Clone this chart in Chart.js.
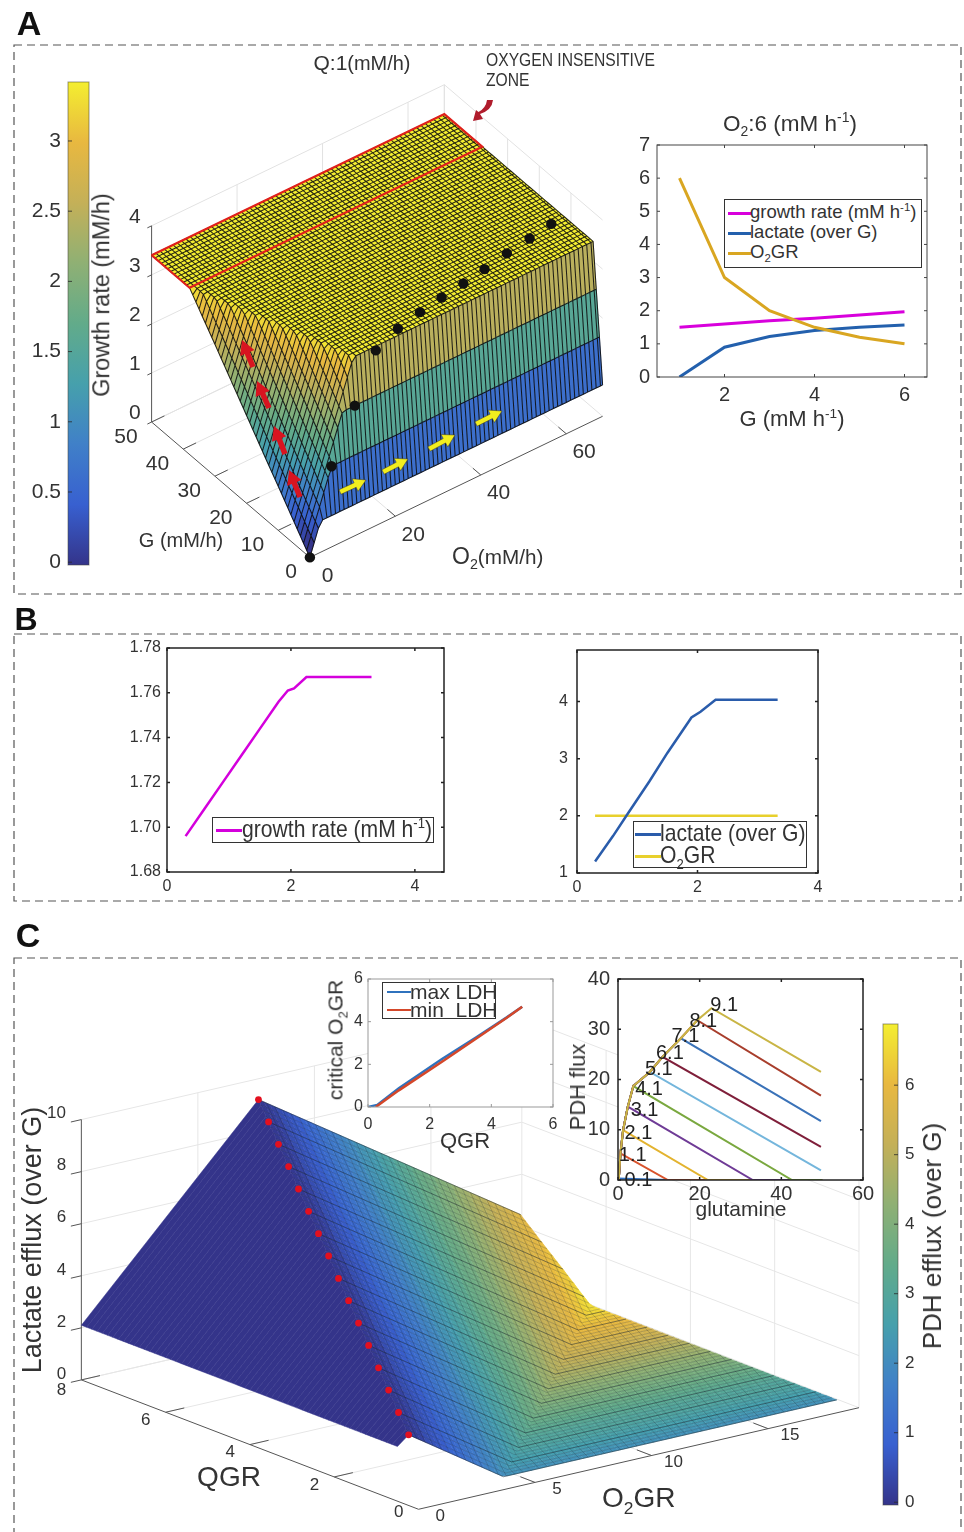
<!DOCTYPE html>
<html>
<head>
<meta charset="utf-8">
<title>Growth rate, lactate and PDH panels</title>
<script src="https://cdn.jsdelivr.net/npm/chart.js@4/dist/chart.umd.js"></script>
<style>
    html, body { margin: 0; padding: 0; background: #fff; }
    #page { position: absolute; left: 0; top: 0; width: 964px; height: 1532px; overflow: hidden; filter: blur(0.4px); font-family: "Liberation Sans", Arial, sans-serif; color: #333; }
    canvas { position: absolute; }
    svg { position: absolute; left: 0; top: 0; }
    .t { position: absolute; white-space: nowrap; line-height: 1; }
    sub, sup { font-size: 0.62em; line-height: 0; }
    .legend { position: absolute; background: #fff; border: 1px solid #333; box-sizing: border-box; }
    .swatch { position: absolute; }
</style>
</head>
<body>
<div id="page"></div>
<script>
// ==================================================
// DADOS
// ==================================================

// Painel A - superficie: cada linha e um nivel de G (joelho em O2, altura na borda e no plato)
const surfaceG = [0, 1, 2, 3, 4, 6, 10, 14, 18, 22, 26, 30, 34, 38, 50];
const surfaceBreakO2 = [2.5, 5.8, 9.1, 12.4, 12.0, 11.3, 9.9, 8.5, 7.1, 5.65, 4.2, 2.8, 1.4, 0, 0];
const surfaceEdgeZ = [0, 0.09, 0.18, 0.27, 0.36, 0.54, 0.9, 1.25, 1.61, 1.97, 2.33, 2.69, 3.04, 3.4, 3.4];
const surfaceTopZ = [0.64, 1.56, 2.48, 3.4, 3.4, 3.4, 3.4, 3.4, 3.4, 3.4, 3.4, 3.4, 3.4, 3.4, 3.4];
const surfaceO2Max = 68.5;
const surfaceZoneG = 38;
const dotG = [0, 1, 2, 2, 4.6, 6, 7, 7.8, 8.8, 10, 10.9, 11.9];
const dotO2 = [0, 5.8, 12, 16.9, 24, 30.2, 36, 41.7, 47.4, 53.5, 59.5, 65.3];
const dotZ = [0, 1.56, 2.48, 3.4, 3.4, 3.4, 3.4, 3.4, 3.4, 3.4, 3.4, 3.4];
const gTicks = [0, 10, 20, 30, 40, 50];
const o2Ticks = [0, 20, 40, 60];
const zTicksA = [0, 1, 2, 3, 4];
const growthBarTicks = [0, 0.5, 1, 1.5, 2, 2.5, 3];

// Painel A - curvas a direita
const sweepG = [1, 2, 3, 4, 5, 6];
const sweepGrowth = [1.5, 1.6, 1.7, 1.77, 1.87, 1.97];
const sweepLactate = [0, 0.9, 1.22, 1.4, 1.5, 1.57];
const sweepO2GR = [6, 3, 2, 1.5, 1.2, 1.0];
const sweepXTicks = [2, 4, 6];
const sweepYTicks = [0, 1, 2, 3, 4, 5, 6, 7];

// Painel B
const bGrowthX = [0.3, 0.6, 0.9, 1.2, 1.5, 1.8, 1.95, 2.05, 2.25, 3.3];
const bGrowthY = [1.696, 1.708, 1.72, 1.732, 1.744, 1.756, 1.761, 1.762, 1.767, 1.767];
const bLactateX = [0.3, 0.6, 0.85, 1.2, 1.5, 1.9, 2.05, 2.3, 3.33];
const bLactateY = [1.2, 1.65, 2.05, 2.6, 3.1, 3.72, 3.82, 4.03, 4.03];
const bO2X = [0.3, 3.33];
const bO2Y = [2, 2];
const bXTicks = [0, 2, 4];
const bGrowthTicks = [1.68, 1.70, 1.72, 1.74, 1.76, 1.78];
const bLactateTicks = [1, 2, 3, 4];

// Painel C - superficie: cada linha e um nivel de QGR
const qgrLevels = [0.5, 1, 1.5, 2, 2.5, 3, 3.5, 4, 4.5, 5, 5.5, 6, 6.5, 7, 7.5, 8];
const critO2 = [0.48, 0.95, 1.43, 1.9, 2.38, 2.85, 3.33, 3.8, 4.28, 4.75, 5.23, 5.7, 6.18, 6.65, 7.13, 7.6];
const peakLactate = [2.45, 2.9, 3.35, 3.8, 4.25, 4.7, 5.15, 5.6, 6.05, 6.5, 6.95, 7.4, 7.85, 8.3, 8.75, 9.2];
const zeroLactateO2 = [4.55, 5.8, 7, 8.2, 9.45, 10.7, 11.9, 13.1, 14.35, 15.6, 16.8, 18.05, 19.25, 20.5, 21.7, 22.95];
const pdhAtZero = [2.12, 2.52, 2.9, 3.27, 3.68, 4.08, 4.46, 4.84, 5.24, 5.64, 6.02, 6.42, 6.8, 7.2, 7.6, 7.98];
const startLactate = 2.1;
const o2grMax = 18.85;
const qgrTicks = [0, 2, 4, 6, 8];
const o2grTicks = [0, 5, 10, 15];
const zTicksC = [0, 2, 4, 6, 8, 10];
const pdhBarTicks = [0, 1, 2, 3, 4, 5, 6];

// Painel C - critical O2GR
const ldhMaxX = [0, 0.3, 1, 2.4, 3.5, 4.5, 5];
const ldhMaxY = [0, 0.1, 0.88, 2.25, 3.25, 4.2, 4.7];
const ldhMinX = [0.25, 1, 2.4, 3.5, 4.5, 5];
const ldhMinY = [0, 0.78, 2.12, 3.2, 4.18, 4.7];
const ldhTicks = [0, 2, 4, 6];

// Painel C - PDH flux x glutamine
const pdhLevels = ['0.1', '1.1', '2.1', '3.1', '4.1', '5.1', '6.1', '7.1', '8.1', '9.1'];
const envelopeX = [0, 0.2, 0.6, 1.25, 2.4, 3.75, 7.8, 10.9, 15.4, 19.4, 22.9];
const envelopeY = [0, 0.3, 5.3, 9.9, 14.6, 18.7, 21.5, 24.5, 28.2, 31.8, 34.2];
const tailX = [12, 12.2, 22, 33, 42.6, 49.7, 49.7, 49.7, 49.7, 49.7];
const tailY = [0, 0, 0, 0, 0, 1.9, 6.6, 11.7, 16.8, 21.5];
const pdhLabelX = [5, 3.6, 5, 6.5, 7.6, 10, 12.7, 16.5, 20.9, 26];
const pdhLabelY = [0, 4.8, 9.3, 13.8, 18, 22, 25.2, 28.6, 31.5, 34.8];
const pdhColors = ['#2f6fc0', '#d9532c', '#e3b32f', '#6f3b96', '#7aa83f', '#74b6dc', '#7f1f3a', '#3a72b8', '#a83e2c', '#c9b545'];
const glutamineTicks = [0, 20, 40, 60];
const pdhFluxTicks = [0, 10, 20, 30, 40];

// Escala de cores das barras laterais
const colorStops = ['#34348a', '#3860d0', '#4080c8', '#46a0ac', '#62ab8a', '#8fb074', '#c4b058', '#e8b840', '#f4ee30'];

// ==================================================
// UTILITARIOS
// ==================================================

Chart.defaults.font.family = '"Liberation Sans", Arial, sans-serif';
Chart.defaults.color = '#333';
Chart.defaults.animation = false;

const page = document.getElementById('page');
const noGrid = { display: false, drawTicks: false };

function text(x, y, html, opts = {}) {
    const el = document.createElement('div');
    el.className = 't';
    const anchor = opts.anchor === 'l' ? '0' : opts.anchor === 'r' ? '-100%' : '-50%';
    el.style.left = x + 'px';
    el.style.top = y + 'px';
    el.style.fontSize = (opts.size || 18) + 'px';
    if (opts.weight) el.style.fontWeight = opts.weight;
    if (opts.color) el.style.color = opts.color;
    if (opts.sx) el.style.transformOrigin = 'left center';
    el.style.transform = `translate(${anchor}, -50%)` + (opts.rot ? ` rotate(${opts.rot}deg)` : '') + (opts.sx ? ` scaleX(${opts.sx})` : '');
    el.innerHTML = html;
    page.appendChild(el);
}

function pairs(xs, ys) {
    return xs.map((x, i) => ({ x: x, y: ys[i] }));
}

function hexToRgb(hex) {
    return [1, 3, 5].map(i => parseInt(hex.slice(i, i + 2), 16));
}

// Cor da escala para t entre 0 e 1
function colormap(t) {
    const pos = Math.max(0, Math.min(1, t)) * (colorStops.length - 1);
    const i = Math.min(colorStops.length - 2, Math.floor(pos));
    const a = hexToRgb(colorStops[i]);
    const b = hexToRgb(colorStops[i + 1]);
    const f = pos - i;
    return `rgb(${a.map((v, k) => Math.round(v + (b[k] - v) * f)).join(',')})`;
}

function makeCanvas(box, m) {
    const canvas = document.createElement('canvas');
    canvas.width = box.r - box.l + m.l + m.r;
    canvas.height = box.b - box.t + m.t + m.b;
    canvas.style.left = (box.l - m.l) + 'px';
    canvas.style.top = (box.t - m.t) + 'px';
    page.appendChild(canvas);
    return canvas.getContext('2d');
}

// Sem isto o rotulo da ponta do eixo empurra a area de plotagem para dentro
function fixScale(s, prop, size) {
    s[prop] = size;
    s.paddingLeft = s.paddingRight = s.paddingTop = s.paddingBottom = 0;
}

function useTicks(values) {
    return s => { s.ticks = values.map(v => ({ value: v })); };
}

// Moldura fechada com marcas para dentro nos quatro lados
const framePlugin = {
    id: 'frame',
    beforeDraw(chart) {
        const a = chart.chartArea;
        chart.ctx.save();
        chart.ctx.fillStyle = '#fff';
        chart.ctx.fillRect(a.left, a.top, a.right - a.left, a.bottom - a.top);
        chart.ctx.restore();
    },
    afterDraw(chart, args, opts) {
        const a = chart.chartArea;
        const ctx = chart.ctx;
        ctx.save();
        ctx.strokeStyle = opts.color || '#333';
        ctx.lineWidth = opts.width || 1;
        ctx.strokeRect(a.left, a.top, a.right - a.left, a.bottom - a.top);
        const len = 3;
        ctx.beginPath();
        chart.scales.x.ticks.forEach(t => {
            const px = chart.scales.x.getPixelForValue(t.value);
            ctx.moveTo(px, a.bottom); ctx.lineTo(px, a.bottom - len);
            ctx.moveTo(px, a.top); ctx.lineTo(px, a.top + len);
        });
        chart.scales.y.ticks.forEach(t => {
            const py = chart.scales.y.getPixelForValue(t.value);
            ctx.moveTo(a.left, py); ctx.lineTo(a.left + len, py);
            ctx.moveTo(a.right, py); ctx.lineTo(a.right - len, py);
        });
        ctx.stroke();
        ctx.restore();
    }
};

// Grafico de linhas 2D com a area de plotagem exatamente na caixa pedida
function lineChart(box, cfg) {
    const m = { l: 50, t: 14, r: 16, b: 34 };
    const ctx = makeCanvas(box, m);
    const font = { size: cfg.tickSize || 18 };
    const plugins = [framePlugin].concat(cfg.plugins || []);
    return new Chart(ctx, {
        type: 'line',
        data: { datasets: cfg.series.slice().reverse().map(s => ({
            label: s.label,
            data: s.data,
            borderColor: s.color,
            borderWidth: s.width || cfg.lineWidth || 3,
            pointRadius: 0,
            fill: false,
            tension: 0
        })) },
        options: {
            responsive: false,
            layout: { padding: { top: m.t, right: m.r } },
            plugins: { legend: { display: false }, tooltip: { enabled: false }, frame: { color: cfg.frameColor, width: cfg.frameWidth } },
            scales: {
                x: {
                    type: 'linear',
                    min: cfg.x.min, max: cfg.x.max,
                    afterFit(s) { fixScale(s, 'height', m.b); },
                    afterBuildTicks: useTicks(cfg.x.ticks),
                    grid: noGrid, border: { display: false },
                    ticks: { font: font, maxRotation: 0, autoSkip: false, padding: cfg.xPad === undefined ? 6 : cfg.xPad, color: '#333' }
                },
                y: {
                    type: 'linear',
                    min: cfg.y.min, max: cfg.y.max,
                    afterFit(s) { fixScale(s, 'width', m.l); },
                    afterBuildTicks: useTicks(cfg.y.ticks),
                    grid: noGrid, border: { display: false },
                    ticks: { font: font, autoSkip: false, padding: cfg.yPad === undefined ? 6 : cfg.yPad, color: '#333', callback: cfg.y.format || (v => String(v)) }
                }
            }
        },
        plugins: plugins
    });
}

// Marcas e contorno da barra de cores
const barEdgePlugin = {
    id: 'barEdge',
    afterDraw(chart) {
        const a = chart.chartArea;
        const ctx = chart.ctx;
        ctx.save();
        ctx.strokeStyle = 'rgba(70,70,60,0.55)';
        ctx.strokeRect(a.left, a.top, a.right - a.left, a.bottom - a.top);
        ctx.strokeStyle = 'rgba(40,40,40,0.8)';
        ctx.beginPath();
        chart.scales.y.ticks.forEach(t => {
            const py = chart.scales.y.getPixelForValue(t.value);
            const side = chart.scales.y.position === 'left';
            ctx.moveTo(side ? a.left : a.right, py);
            ctx.lineTo(side ? a.left + 4 : a.right - 4, py);
        });
        ctx.stroke();
        ctx.restore();
    }
};

// Barra de cores: uma barra flutuante com gradiente
function colorbar(box, cfg) {
    const m = cfg.side === 'left' ? { l: 44, t: 14, r: 2, b: 14 } : { l: 2, t: 14, r: 44, b: 14 };
    const ctx = makeCanvas(box, m);
    return new Chart(ctx, {
        type: 'bar',
        data: {
            labels: [''],
            datasets: [{
                data: [[cfg.min, cfg.max]],
                barPercentage: 1,
                categoryPercentage: 1,
                borderWidth: 0,
                backgroundColor(c) {
                    const a = c.chart.chartArea;
                    if (!a) return colorStops[0];
                    const g = c.chart.ctx.createLinearGradient(0, a.bottom, 0, a.top);
                    colorStops.forEach((col, i) => g.addColorStop(i / (colorStops.length - 1), col));
                    return g;
                }
            }]
        },
        options: {
            responsive: false,
            layout: { padding: { top: m.t, bottom: m.b, left: cfg.side === 'left' ? 0 : m.l, right: cfg.side === 'left' ? m.r : 0 } },
            plugins: { legend: { display: false }, tooltip: { enabled: false } },
            scales: {
                x: { display: false },
                y: {
                    position: cfg.side,
                    min: cfg.min, max: cfg.max,
                    afterFit(s) { fixScale(s, 'width', cfg.side === 'left' ? m.l : m.r); },
                    afterBuildTicks: useTicks(cfg.ticks),
                    grid: noGrid, border: { display: false },
                    ticks: { autoSkip: false, padding: cfg.pad, font: { size: cfg.size }, color: '#333', callback: v => String(v) }
                }
            }
        },
        plugins: [barEdgePlugin]
    });
}

// Legenda com linhas de amostra e texto real
function legend(box, rows, opts) {
    const el = document.createElement('div');
    el.className = 'legend';
    el.style.left = box.l + 'px';
    el.style.top = box.t + 'px';
    el.style.width = (box.r - box.l) + 'px';
    el.style.height = (box.b - box.t) + 'px';
    page.appendChild(el);
    rows.forEach(row => {
        const s = document.createElement('div');
        s.className = 'swatch';
        s.style.left = (opts.swatchX) + 'px';
        s.style.width = opts.swatchW + 'px';
        s.style.top = (row.y - box.t - opts.thick / 2) + 'px';
        s.style.height = opts.thick + 'px';
        s.style.background = row.color;
        el.appendChild(s);
        text(box.l + opts.swatchX + opts.swatchW + (opts.gap || 0), row.y, row.html, { anchor: 'l', size: opts.size, sx: opts.sx });
    });
}

// ---- superficies 3D: poligonos agrupados por cor em conjuntos scatter ----

const BREAK = { x: NaN, y: NaN };

function pushCell(bins, nBins, t, pts) {
    const k = Math.round(Math.max(0, Math.min(1, t)) * (nBins - 1));
    if (!bins[k]) bins[k] = [];
    bins[k].push(pts[0], pts[1], pts[2], pts[3], pts[0], BREAK);
}

function cellDatasets(bins, nBins) {
    const out = [];
    Object.keys(bins).forEach(k => {
        const c = colormap(k / (nBins - 1));
        out.push({ data: bins[k], showLine: true, fill: 'shape', backgroundColor: c, borderColor: c, borderWidth: 0.5, borderDash: [1000, 0], pointRadius: 0, spanGaps: false, tension: 0 });
    });
    return out;
}

function strokeDataset(data, color, width) {
    return { data: data, showLine: true, fill: false, borderColor: color, borderWidth: width, borderDash: [1000, 0], pointRadius: 0, spanGaps: false, tension: 0 };
}

// Textos de marcas dos eixos 3D, posicionados pelas escalas do proprio grafico
const axisLabelPlugin = {
    id: 'axisLabels',
    afterDatasetsDraw(chart, args, opts) {
        const ctx = chart.ctx;
        ctx.save();
        ctx.fillStyle = '#333';
        ctx.textAlign = 'center';
        ctx.textBaseline = 'middle';
        ctx.font = opts.size + 'px "Liberation Sans", Arial, sans-serif';
        opts.items.forEach(it => {
            ctx.fillText(it.text, chart.scales.x.getPixelForValue(it.x), chart.scales.y.getPixelForValue(it.y));
        });
        ctx.restore();
    }
};

function surfaceChart(top, bottom, datasets, labelItems, labelSize) {
    const ctx = makeCanvas({ l: 0, t: top, r: 964, b: bottom }, { l: 0, t: 0, r: 0, b: 0 });
    return new Chart(ctx, {
        type: 'scatter',
        data: { datasets: datasets },
        options: {
            responsive: false,
            layout: { padding: 0 },
            plugins: { legend: { display: false }, tooltip: { enabled: false }, axisLabels: { items: labelItems, size: labelSize } },
            scales: {
                x: { display: false, min: 0, max: 964 },
                y: { display: false, min: top, max: bottom, reverse: true }
            }
        },
        plugins: [axisLabelPlugin]
    });
}

// ==================================================
// MOLDURAS TRACEJADAS, LETRAS, ANOTACOES
// ==================================================

function dashedBoxes() {
    const boxes = [[14, 45, 947, 549], [14, 634, 947, 267], [14, 958, 947, 590]];
    const rects = boxes.map(b => `<rect x="${b[0]}" y="${b[1]}" width="${b[2]}" height="${b[3]}" fill="none" stroke="#555" stroke-width="1.2" stroke-dasharray="8 5"/>`).join('');
    const svg = document.createElementNS('http://www.w3.org/2000/svg', 'svg');
    svg.setAttribute('width', 964);
    svg.setAttribute('height', 1532);
    svg.innerHTML = rects;
    page.appendChild(svg);
}

function arrowPath(x1, y1, x2, y2, w, head) {
    const len = Math.hypot(x2 - x1, y2 - y1);
    const ux = (x2 - x1) / len, uy = (y2 - y1) / len;
    const nx = -uy, ny = ux;
    const bx = x2 - ux * head, by = y2 - uy * head;
    const p = [
        [x1 + nx * w / 2, y1 + ny * w / 2],
        [bx + nx * w / 2, by + ny * w / 2],
        [bx + nx * w * 1.4, by + ny * w * 1.4],
        [x2, y2],
        [bx - nx * w * 1.4, by - ny * w * 1.4],
        [bx - nx * w / 2, by - ny * w / 2],
        [x1 - nx * w / 2, y1 - ny * w / 2]
    ];
    return p.map(q => q[0].toFixed(1) + ',' + q[1].toFixed(1)).join(' ');
}

function annotations() {
    const yellow = [[340, 492, 366, 480], [383, 472, 408, 459], [429, 449, 455, 435], [476, 424, 502, 411]];
    const red = [[253, 367, 242, 340], [269, 408, 257, 381], [285, 454, 274, 426], [300, 497, 289, 470]];
    let inner = '';
    yellow.forEach(a => {
        inner += `<polygon points="${arrowPath(a[0], a[1], a[2], a[3], 5, 12)}" fill="#f2ee1e" stroke="#333" stroke-width="0.5"/>`;
    });
    red.forEach(a => {
        inner += `<polygon points="${arrowPath(a[0], a[1], a[2], a[3], 5.5, 14)}" fill="#d81420"/>`;
    });
    inner += `<path d="M493 100 Q492 110 480 114 L483 119 L473 121 L476 110 L478.5 112 Q486 108 487 100 Z" fill="#b01c2c"/>`;
    const svg = document.createElementNS('http://www.w3.org/2000/svg', 'svg');
    svg.setAttribute('width', 964);
    svg.setAttribute('height', 1532);
    svg.innerHTML = inner;
    page.appendChild(svg);
}

// ==================================================
// PAINEL A - SUPERFICIE
// ==================================================

function projA(g, o, z) {
    return { x: 308 - 3.2 * g + 4.32 * o, y: 562 - 2.76 * g - 2.1 * o - 50 * z };
}

// Altura da superficie entre os niveis lidos. As malhas finas abaixo so subdividem
// estes valores para desenhar a textura da malha; nao sao novas leituras.
function surfaceZ(g, o) {
    let i = surfaceG.findIndex((v, k) => k < surfaceG.length - 1 && g < surfaceG[k + 1]);
    if (i < 0) i = surfaceG.length - 2;
    const f = (g - surfaceG[i]) / (surfaceG[i + 1] - surfaceG[i]);
    const brk = surfaceBreakO2[i] + (surfaceBreakO2[i + 1] - surfaceBreakO2[i]) * f;
    const edge = surfaceEdgeZ[i] + (surfaceEdgeZ[i + 1] - surfaceEdgeZ[i]) * f;
    const top = surfaceTopZ[i] + (surfaceTopZ[i + 1] - surfaceTopZ[i]) * f;
    if (o >= brk) return top;
    return edge + (top - edge) * o / brk;
}

function buildPanelA() {
    const gMesh = [];
    for (let g = 0; g <= 50; g++) gMesh.push(g);
    const oMesh = [];
    for (let o = 0; o <= 68; o++) oMesh.push(o);
    oMesh.push(surfaceO2Max);

    const nBins = 56;
    const bins = {};
    const pt = (g, o) => projA(g, o, surfaceZ(g, o));
    for (let i = 0; i < gMesh.length - 1; i++) {
        for (let j = 0; j < oMesh.length - 1; j++) {
            const g0 = gMesh[i], g1 = gMesh[i + 1], o0 = oMesh[j], o1 = oMesh[j + 1];
            pushCell(bins, nBins, surfaceZ(g0, o0) / 3.42, [pt(g0, o0), pt(g1, o0), pt(g1, o1), pt(g0, o1)]);
        }
    }

    const mesh = [];
    gMesh.forEach(g => { oMesh.forEach(o => mesh.push(pt(g, o))); mesh.push(BREAK); });
    oMesh.forEach(o => { gMesh.forEach(g => mesh.push(pt(g, o))); mesh.push(BREAK); });

    const zone = [projA(50, 0, 3.4), projA(50, surfaceO2Max, 3.4), projA(surfaceZoneG, surfaceO2Max, 3.4), projA(surfaceZoneG, 0, 3.4), projA(50, 0, 3.4)];

    const grid = [];
    const axes = [];
    const seg = (list, a, b) => list.push(a, b, BREAK);
    zTicksA.forEach(z => {
        seg(grid, projA(50, 0, z), projA(50, surfaceO2Max, z));
        seg(grid, projA(50, surfaceO2Max, z), projA(0, surfaceO2Max, z));
        seg(axes, projA(50, 0, z), projA(50, -1, z));
    });
    o2Ticks.slice(1).forEach(o => {
        seg(grid, projA(50, o, 0), projA(50, o, 4));
        seg(grid, projA(0, o, 0), projA(50, o, 0));
        seg(axes, projA(0, o, 0), projA(2.5, o, 0));
    });
    gTicks.slice(1).forEach(g => {
        seg(grid, projA(g, surfaceO2Max, 0), projA(g, surfaceO2Max, 4));
        seg(grid, projA(g, 0, 0), projA(g, surfaceO2Max, 0));
        seg(axes, projA(g, 0, 0), projA(g, 3, 0));
    });
    seg(grid, projA(50, surfaceO2Max, 0), projA(50, surfaceO2Max, 4));
    seg(axes, projA(0, 0, 0), projA(50, 0, 0));
    seg(axes, projA(0, 0, 0), projA(0, surfaceO2Max, 0));
    seg(axes, projA(50, 0, 0), projA(50, 0, 4));

    const dots = dotG.map((g, i) => projA(g, dotO2[i], dotZ[i]));

    const labels = [];
    zTicksA.forEach(z => { const p = projA(50, 0, z); labels.push({ x: p.x - 17, y: p.y - 9, text: String(z) }); });
    gTicks.forEach(g => { const p = projA(g, 0, 0); labels.push({ x: p.x - (g === 0 ? 19 : 26), y: p.y + 15, text: String(g) }); });
    o2Ticks.forEach(o => { const p = projA(0, o, 0); labels.push({ x: p.x + 18, y: p.y + 19, text: String(o) }); });

    const datasets = [
        { data: dots, pointRadius: 5.2, pointBackgroundColor: '#111', pointBorderWidth: 0, showLine: false },
        strokeDataset(zone, '#e0201c', 2.2),
        strokeDataset(mesh, 'rgba(10,10,10,0.88)', 1.05)
    ].concat(cellDatasets(bins, nBins), [
        strokeDataset(axes, '#555', 1),
        strokeDataset(grid, '#e2e2e2', 1)
    ]);
    surfaceChart(46, 594, datasets, labels, 21);
}

// ==================================================
// PAINEL C - SUPERFICIE
// ==================================================

function projC(q, c, z) {
    return { x: 418 - 42.5 * q + 23.5 * c, y: 1513 - 16.4 * q - 5.45 * c - 26.4 * z };
}

// Valores de uma linha de QGR: os niveis lidos ligados linearmente
function rowAt(q) {
    let i = qgrLevels.findIndex((v, k) => k < qgrLevels.length - 1 && q < qgrLevels[k + 1]);
    if (i < 0) i = qgrLevels.length - 2;
    const f = (q - qgrLevels[i]) / (qgrLevels[i + 1] - qgrLevels[i]);
    const mix = arr => arr[i] + (arr[i + 1] - arr[i]) * f;
    return { crit: mix(critO2), peak: mix(peakLactate), zero: mix(zeroLactateO2), pdh: mix(pdhAtZero) };
}

function lactateAt(row, c) {
    if (c <= row.crit) return startLactate + (row.peak - startLactate) * c / row.crit;
    if (c <= row.zero) return row.peak * (row.zero - c) / (row.zero - row.crit);
    return 0;
}

function pdhAt(row, c) {
    if (c <= row.crit) return 0;
    return row.pdh * Math.min(1, (c - row.crit) / (row.zero - row.crit));
}

function buildPanelC() {
    const qStep = 0.125;
    const uStep = 0.25;
    const nBins = 70;
    const pMax = 6.88;
    const bins = {};
    const pt = (q, row, c) => projC(q, c, lactateAt(row, c));

    for (let q = 0.5; q < 8 - 1e-6; q += qStep) {
        const qb = q + qStep;
        const ra = rowAt(q), rb = rowAt(qb);
        pushCell(bins, nBins, 0, [pt(q, ra, 0), pt(qb, rb, 0), pt(qb, rb, rb.crit), pt(q, ra, ra.crit)]);
        for (let u = 0; ; u += uStep) {
            const ca0 = Math.min(o2grMax, ra.crit + u), ca1 = Math.min(o2grMax, ra.crit + u + uStep);
            const cb0 = Math.min(o2grMax, rb.crit + u), cb1 = Math.min(o2grMax, rb.crit + u + uStep);
            if (ca0 >= o2grMax && cb0 >= o2grMax) break;
            const p = (pdhAt(ra, ca0) + pdhAt(ra, ca1) + pdhAt(rb, cb0) + pdhAt(rb, cb1)) / 4;
            pushCell(bins, nBins, p / pMax, [pt(q, ra, ca0), pt(qb, rb, cb0), pt(qb, rb, cb1), pt(q, ra, ca1)]);
        }
    }

    // Malha fina e linhas mais fortes nos niveis de QGR
    const fine = [];
    for (let q = 0.5; q <= 8.001; q += 0.125) {
        const r = rowAt(Math.min(q, 8));
        [r.crit, Math.min(r.zero, o2grMax), o2grMax].forEach(c => fine.push(pt(q, r, c)));
        fine.push(BREAK);
    }
    for (let u = 0.35; u < 19; u += 0.35) {
        for (let q = 0.5; q <= 8.001; q += 0.25) {
            const r = rowAt(Math.min(q, 8));
            const c = r.crit + u;
            if (c <= o2grMax) fine.push(pt(q, r, c)); else { fine.push(BREAK); }
        }
        fine.push(BREAK);
    }
    const strong = [];
    qgrLevels.forEach(q => {
        const r = rowAt(q);
        [r.crit, Math.min(r.zero, o2grMax), o2grMax].forEach(c => strong.push(pt(q, r, c)));
        strong.push(BREAK);
    });

    const dots = qgrLevels.map((q, i) => projC(q, critO2[i], peakLactate[i]));

    const grid = [];
    const axes = [];
    const seg = (list, a, b) => list.push(a, b, BREAK);
    zTicksC.forEach(z => {
        seg(grid, projC(8, 0, z), projC(8, o2grMax + 0.05, z));
        seg(grid, projC(8, o2grMax + 0.05, z), projC(0, o2grMax + 0.05, z));
        seg(axes, projC(8, 0, z), projC(8, -0.45, z));
    });
    o2grTicks.slice(1).forEach(c => {
        seg(grid, projC(8, c, 0), projC(8, c, 10));
        seg(grid, projC(0, c, 0), projC(8, c, 0));
        seg(axes, projC(0, c, 0), projC(0.35, c, 0));
    });
    qgrTicks.slice(1).forEach(q => {
        if (q < 8) seg(grid, projC(q, o2grMax + 0.05, 0), projC(q, o2grMax + 0.05, 10));
        seg(grid, projC(q, 0, 0), projC(q, o2grMax + 0.05, 0));
        seg(axes, projC(q, 0, 0), projC(q, 0.8, 0));
    });
    seg(grid, projC(8, o2grMax + 0.05, 0), projC(8, o2grMax + 0.05, 10));
    seg(grid, projC(0, o2grMax + 0.05, 0), projC(0, o2grMax + 0.05, 10));
    seg(axes, projC(0, 0, 0), projC(8, 0, 0));
    seg(axes, projC(0, 0, 0), projC(0, o2grMax + 0.05, 0));
    seg(axes, projC(8, 0, 0), projC(8, 0, 10));

    const labels = [];
    zTicksC.forEach(z => { const p = projC(8, 0, z); labels.push({ x: p.x - (z === 10 ? 25 : 20), y: p.y - 6, text: String(z) }); });
    qgrTicks.forEach(q => { const p = projC(q, 0, 0); labels.push({ x: p.x - 20, y: p.y + (q === 8 ? 11 : q === 0 ? 3 : 8), text: String(q) }); });
    o2grTicks.forEach(c => { const p = projC(0, c, 0); labels.push({ x: p.x + 22, y: p.y + 7, text: String(c) }); });

    const datasets = [
        { data: dots, pointRadius: 3.4, pointBackgroundColor: '#e3101f', pointBorderWidth: 0, showLine: false },
        strokeDataset(strong, 'rgba(20,30,40,0.45)', 0.8),
        strokeDataset(fine, 'rgba(20,30,40,0.3)', 0.7)
    ].concat(cellDatasets(bins, nBins), [
        strokeDataset(axes, '#555', 1),
        strokeDataset(grid, '#e6e6e6', 1)
    ]);
    surfaceChart(960, 1532, datasets, labels, 17);
}

// ==================================================
// MONTAGEM
// ==================================================

buildPanelA();
buildPanelC();
dashedBoxes();
annotations();

text(29, 23, 'A', { size: 34, weight: 700, color: '#111' });
text(26, 619, 'B', { size: 32, weight: 700, color: '#111' });
text(28, 935, 'C', { size: 34, weight: 700, color: '#111' });

// -- Painel A, textos --
colorbar({ l: 68, t: 82, r: 89, b: 565 }, { side: 'left', min: -0.02, max: 3.42, ticks: growthBarTicks, size: 21, pad: 7 });
text(362, 63, 'Q:1<span style="font-size:0.95em">(mM/h)</span>', { size: 21 });
text(486, 61, 'OXYGEN INSENSITIVE', { anchor: 'l', size: 17.5, sx: 0.895 });
text(486, 81, 'ZONE', { anchor: 'l', size: 17.5, sx: 0.895 });
text(102, 295, 'Growth rate (mM/h)', { size: 23.5, rot: -90 });
text(181, 540, 'G (mM/h)', { size: 20 });
text(452, 556, 'O<sub>2</sub><span style="font-size:0.9em">(mM/h)</span>', { anchor: 'l', size: 23 });

// -- Painel A, curvas --
lineChart({ l: 657, t: 145, r: 927, b: 377 }, {
    x: { min: 0.5, max: 6.5, ticks: sweepXTicks },
    y: { min: 0, max: 7, ticks: sweepYTicks },
    tickSize: 20,
    frameColor: '#444',
    xPad: 6,
    yPad: 7,
    series: [
        { label: 'growth rate (mM h-1)', data: pairs(sweepG, sweepGrowth), color: '#d800dc' },
        { label: 'lactate (over G)', data: pairs(sweepG, sweepLactate), color: '#2360ad' },
        { label: 'O2GR', data: pairs(sweepG, sweepO2GR), color: '#d9a621' }
    ]
});
text(790, 124, 'O<sub>2</sub>:6 (mM h<sup>-1</sup>)', { size: 22.5 });
text(792, 419, 'G (mM h<sup>-1</sup>)', { size: 22 });
legend({ l: 724, t: 199, r: 922, b: 268 }, [
    { y: 212, color: '#d800dc', html: 'growth rate (mM h<sup>-1</sup>)' },
    { y: 232, color: '#2360ad', html: 'lactate (over G)' },
    { y: 252, color: '#d9a621', html: 'O<sub>2</sub>GR' }
], { swatchX: 3, swatchW: 23, thick: 3, size: 18.5 });

// -- Painel B --
lineChart({ l: 167, t: 648, r: 444, b: 872 }, {
    x: { min: 0, max: 4.47, ticks: bXTicks },
    y: { min: 1.68, max: 1.78, ticks: bGrowthTicks, format: v => v.toFixed(2) },
    tickSize: 16,
    frameColor: '#222',
    frameWidth: 1.5,
    lineWidth: 2.5,
    xPad: 5,
    yPad: 6,
    series: [{ label: 'growth rate (mM h-1)', data: pairs(bGrowthX, bGrowthY), color: '#d400dc' }]
});
legend({ l: 212, t: 817, r: 434, b: 843 }, [
    { y: 829, color: '#d400dc', html: 'growth rate (mM h<sup>-1</sup>)' }
], { swatchX: 3, swatchW: 26, thick: 3, size: 24, gap: 1, sx: 0.88 });

lineChart({ l: 577, t: 650, r: 818, b: 873 }, {
    x: { min: 0, max: 4, ticks: bXTicks },
    y: { min: 1, max: 4.9, ticks: bLactateTicks },
    tickSize: 16,
    frameColor: '#222',
    frameWidth: 1.5,
    lineWidth: 2.5,
    xPad: 5,
    yPad: 9,
    series: [
        { label: 'O2GR', data: pairs(bO2X, bO2Y), color: '#e8d02c' },
        { label: 'lactate (over G)', data: pairs(bLactateX, bLactateY), color: '#2a5cab' }
    ]
});
legend({ l: 633, t: 821, r: 807, b: 868 }, [
    { y: 833, color: '#2a5cab', html: 'lactate (over G)' },
    { y: 855, color: '#e8d02c', html: 'O<sub>2</sub>GR' }
], { swatchX: 1, swatchW: 26, thick: 3, size: 24, sx: 0.88 });

// -- Painel C, critical O2GR --
lineChart({ l: 368, t: 979, r: 553, b: 1107 }, {
    x: { min: 0, max: 6, ticks: ldhTicks },
    y: { min: 0, max: 6, ticks: ldhTicks },
    tickSize: 16,
    frameColor: '#999',
    lineWidth: 2.5,
    xPad: 8,
    yPad: 5,
    series: [
        { label: 'max LDH', data: pairs(ldhMaxX, ldhMaxY), color: '#2f72bd' },
        { label: 'min LDH', data: pairs(ldhMinX, ldhMinY), color: '#d4472a' }
    ]
});
legend({ l: 382, t: 982, r: 496, b: 1019 }, [
    { y: 991, color: '#2f72bd', html: 'max LDH' },
    { y: 1009, color: '#d4472a', html: 'min&nbsp; LDH' }
], { swatchX: 4, swatchW: 24, thick: 1.5, size: 21 });
text(335, 1040, 'critical O<sub>2</sub>GR', { size: 21, rot: -90 });
text(465, 1141, 'QGR', { size: 22 });

// -- Painel C, PDH flux --
const pdhLabelPlugin = {
    id: 'pdhLabels',
    afterDatasetsDraw(chart) {
        const ctx = chart.ctx;
        ctx.save();
        ctx.fillStyle = '#222';
        ctx.font = '20px "Liberation Sans", Arial, sans-serif';
        ctx.textAlign = 'center';
        ctx.textBaseline = 'middle';
        pdhLevels.forEach((lab, i) => {
            ctx.fillText(lab, chart.scales.x.getPixelForValue(pdhLabelX[i]), chart.scales.y.getPixelForValue(pdhLabelY[i]));
        });
        ctx.restore();
    }
};
lineChart({ l: 618, t: 979, r: 863, b: 1180 }, {
    x: { min: 0, max: 60, ticks: glutamineTicks },
    y: { min: 0, max: 40, ticks: pdhFluxTicks },
    tickSize: 20,
    frameColor: '#222',
    frameWidth: 1.5,
    lineWidth: 2,
    xPad: 2,
    yPad: 8,
    plugins: [pdhLabelPlugin],
    series: pdhLevels.map((lab, k) => {
        const data = pairs(envelopeX.slice(0, k + 2), envelopeY.slice(0, k + 2));
        data.push({ x: tailX[k], y: tailY[k] });
        if (tailY[k] === 0) data.push({ x: 50, y: 0 });
        return { label: lab, data: data, color: pdhColors[k] };
    })
});
text(578, 1087, 'PDH flux', { size: 22, rot: -90 });
text(741, 1208, 'glutamine', { size: 21 });

// -- Painel C, textos do 3D --
colorbar({ l: 883, t: 1024, r: 898, b: 1505 }, { side: 'right', min: -0.04, max: 6.88, ticks: pdhBarTicks, size: 17, pad: 7 });
text(932, 1236, 'PDH efflux (over G)', { size: 26, rot: -90 });
text(32, 1240, 'Lactate efflux (over G)', { size: 27, rot: -90 });
text(229, 1477, 'QGR', { size: 28 });
text(602, 1498, 'O<sub>2</sub>GR', { anchor: 'l', size: 28 });
</script>
</body>
</html>
